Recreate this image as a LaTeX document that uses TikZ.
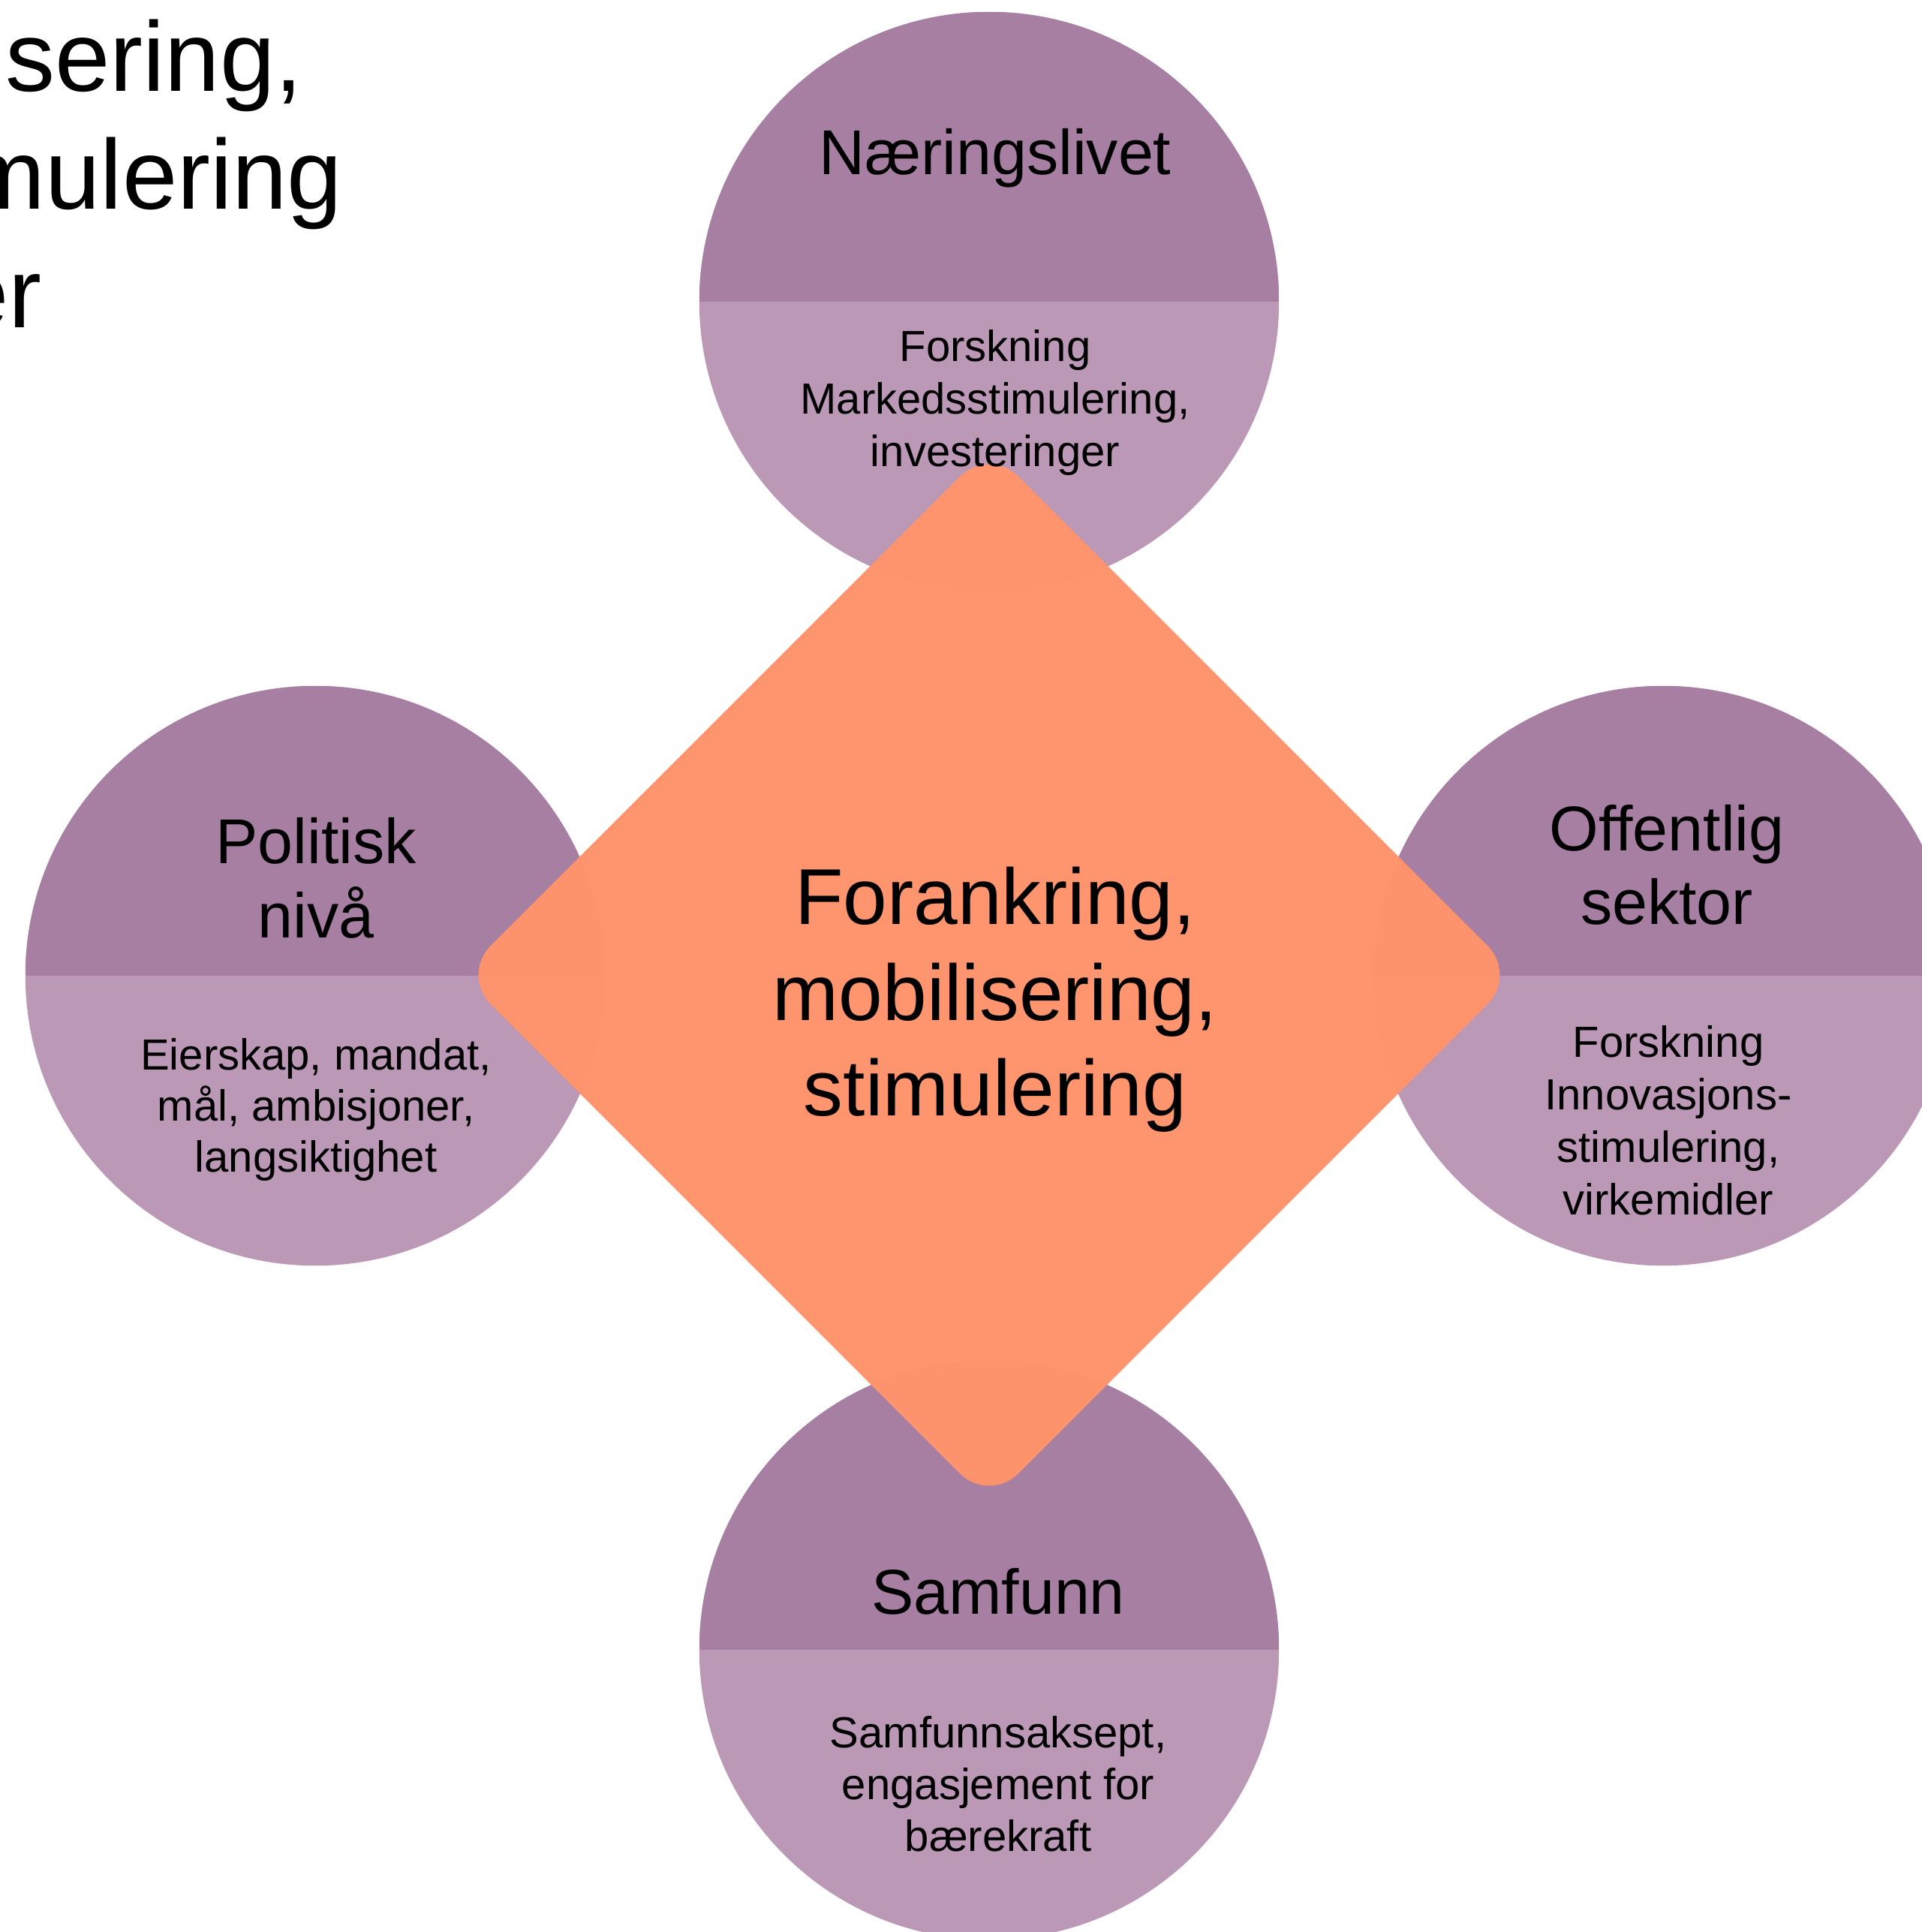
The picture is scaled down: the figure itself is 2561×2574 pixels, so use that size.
\documentclass[tikz,border=0pt]{standalone}
\usepackage{fontspec}
\setmainfont{Liberation Sans}
\usetikzlibrary{shapes.geometric}
\definecolor{cdark}{RGB}{166,127,162}
\definecolor{clight}{RGB}{186,152,182}
\definecolor{corange}{RGB}{255,148,108}
\begin{document}
\begin{tikzpicture}[x=0.01cm,y=-0.01cm,
  circ/.style={circle, inner sep=0pt, minimum size=7.72cm, fill=clight,
    path picture={\fill[cdark] (path picture bounding box.north west) rectangle (path picture bounding box.east);}},
  dia/.style={diamond, shape aspect=1, inner sep=0pt, minimum width=14.06cm, minimum height=14.06cm,
    rounded corners=0.55cm, fill=corange, fill opacity=0.985},
  ttl/.style={anchor=base, inner sep=0pt, font=\fontsize{24}{28.8}\selectfont},
  bdy/.style={anchor=base, inner sep=0pt, font=\fontsize{16.5}{19.8}\selectfont},
  ctr/.style={anchor=base, inner sep=0pt, font=\fontsize{30}{36}\selectfont},
  hdr/.style={anchor=base east, inner sep=0pt, font=\fontsize{37.5}{45}\selectfont}]
\clip (0,0) rectangle (2561,2574);
\fill[white] (0,0) rectangle (2561,2574);

% heading fragment (cut off at the left edge, as in the reference)
\node[hdr] (h1) at (404,121) {mobilisering,};
\node[hdr] (h2) at (457,278) {stimulering};
\node[hdr] (h3) at (56,436) {er};

% four circles
\node[circ] (naer) at (1318,402) {};
\node[circ] (pol) at (420,1300) {};
\node[circ] (off) at (2216,1300) {};
\node[circ] (sam) at (1318,2198) {};

% central diamond
\node[dia] (core) at (1318,1299) {};

% centre text
\node[ctr] (c1) at (1326,1231) {Forankring,};
\node[ctr] (c2) at (1326,1359) {mobilisering,};
\node[ctr] (c3) at (1326,1486) {stimulering};

% top circle
\node[ttl] (naerT) at (1326,232) {Næringslivet};
\node[bdy] (naerB1) at (1326,481) {Forskning};
\node[bdy] (naerB2) at (1326,551) {Markedsstimulering,};
\node[bdy] (naerB3) at (1326,621) {investeringer};

% left circle
\node[ttl] (polT1) at (421,1150) {Politisk};
\node[ttl] (polT2) at (421,1249) {nivå};
\node[bdy] (polB1) at (421,1425) {Eierskap, mandat,};
\node[bdy] (polB2) at (421,1493) {mål, ambisjoner,};
\node[bdy] (polB3) at (421,1561) {langsiktighet};

% right circle
\node[ttl] (offT1) at (2221,1133) {Offentlig};
\node[ttl] (offT2) at (2221,1231) {sektor};
\node[bdy] (offB1) at (2223,1408) {Forskning};
\node[bdy] (offB2) at (2223,1478) {Innovasjons-};
\node[bdy] (offB3) at (2223,1548) {stimulering,};
\node[bdy] (offB4) at (2223,1618) {virkemidler};

% bottom circle
\node[ttl] (samT) at (1330,2150) {Samfunn};
\node[bdy] (samB1) at (1330,2328) {Samfunnsaksept,};
\node[bdy] (samB2) at (1330,2397) {engasjement for};
\node[bdy] (samB3) at (1330,2466) {bærekraft};
\end{tikzpicture}
\end{document}
